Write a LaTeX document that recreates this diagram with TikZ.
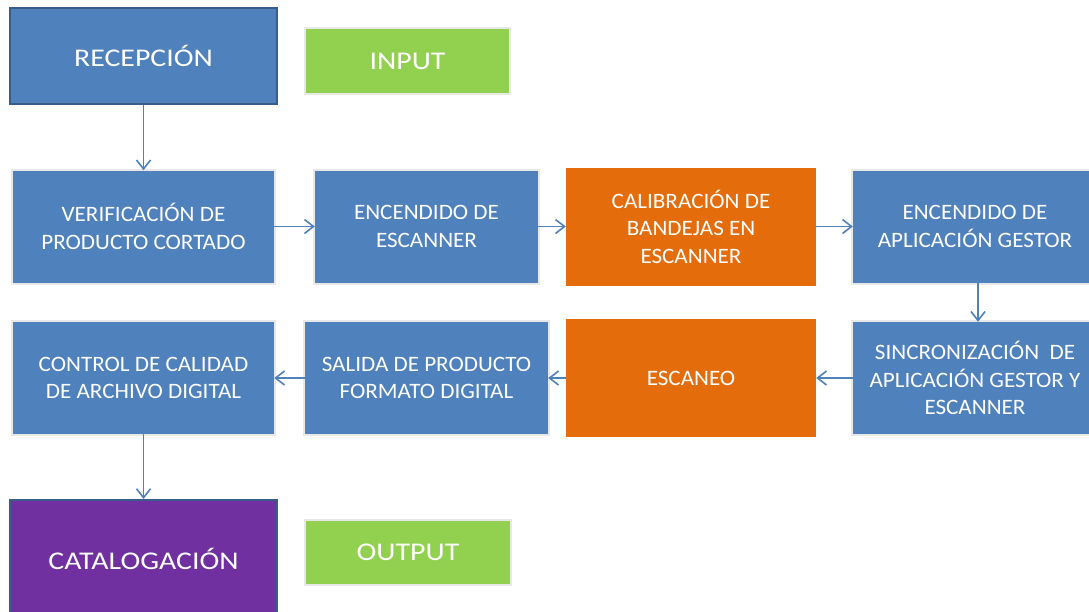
\documentclass[tikz,border=0pt]{standalone}
\usepackage{fontspec}
\setmainfont{Carlito}
\newfontfamily\boxfont[FakeStretch=1.05]{Carlito}
\newfontfamily\bigfont[FakeStretch=1.17]{Carlito}
\usetikzlibrary{arrows.meta}
\definecolor{bl}{HTML}{4F81BD}
\definecolor{bldark}{HTML}{385D8A}
\definecolor{org}{HTML}{E46C0A}
\definecolor{grn}{HTML}{92D050}
\definecolor{pur}{HTML}{7030A0}
\tikzset{
  base/.style={rectangle, inner sep=0pt, align=center, text=white},
  halo/.style={preaction={draw=black!9, line width=4pt}},
  proc/.style={base, halo, fill=bl, font=\boxfont\fontsize{22}{27.5}\selectfont},
  hot/.style={base, fill=org, font=\boxfont\fontsize{22}{27.5}\selectfont},
  bigbox/.style={base, draw=bldark, line width=2pt, font=\bigfont\fontsize{25.5}{30}\selectfont},
  tag/.style={base, halo, fill=grn, font=\bigfont\fontsize{25.5}{30}\selectfont},
  arr/.style={draw=bl, line width=1.6pt, -{Straight Barb[length=9pt,width=14pt,line width=1.6pt]}}
}
\begin{document}
\begin{tikzpicture}[x=1pt,y=-1pt]
\useasboundingbox (0,0) rectangle (1089,611);
\clip (0,0) rectangle (1089,611);
\fill[white] (0,0) rectangle (1089,611);

\node[bigbox, fill=bl, minimum width=267pt, minimum height=96pt] (rec) at (143.5,56) {RECEPCIÓN};
\node[tag, minimum width=203pt, minimum height=64pt] (inp) at (407.5,61) {INPUT};

\node[proc, minimum width=261pt, minimum height=112pt] (ver) at (143.5,226.5) {VERIFICACIÓN DE\\PRODUCTO CORTADO};
\node[proc, minimum width=223pt, minimum height=112pt] (enc) at (426.5,226.5) {ENCENDIDO DE\\ESCANNER};
\node[hot, minimum width=250pt, minimum height=118pt] (cal) at (691,226.5) {CALIBRACIÓN DE\\BANDEJAS EN\\ESCANNER};
\node[proc, minimum width=244pt, minimum height=112pt] (app) at (975,226.5) {ENCENDIDO DE\\APLICACIÓN GESTOR};

\node[proc, minimum width=261pt, minimum height=112pt] (ctl) at (143.5,378) {CONTROL DE CALIDAD\\DE ARCHIVO DIGITAL};
\node[proc, minimum width=243pt, minimum height=112pt] (sal) at (426.5,378) {SALIDA DE PRODUCTO\\FORMATO DIGITAL};
\node[hot, minimum width=250pt, minimum height=118pt] (esc) at (691,378) {ESCANEO};
\node[proc, minimum width=244pt, minimum height=112pt] (syn) at (975,378) {SINCRONIZACIÓN~ DE\\APLICACIÓN GESTOR Y\\ESCANNER};

\node[bigbox, fill=pur, minimum width=267pt, minimum height=118pt] (cat) at (143.5,559) {CATALOGACIÓN};
\node[tag, minimum width=204pt, minimum height=63pt] (out) at (408,552.5) {OUTPUT};

\draw[arr] (rec) -- (ver);
\draw[arr] (ver) -- (enc);
\draw[arr] (enc) -- (cal);
\draw[arr] (cal) -- (app);
\draw[arr] (app.south -| 978,0) -- (syn.north -| 978,0);
\draw[arr] (syn) -- (esc);
\draw[arr] (esc) -- (sal);
\draw[arr] (sal) -- (ctl);
\draw[arr] (ctl) -- (cat);
\end{tikzpicture}
\end{document}
